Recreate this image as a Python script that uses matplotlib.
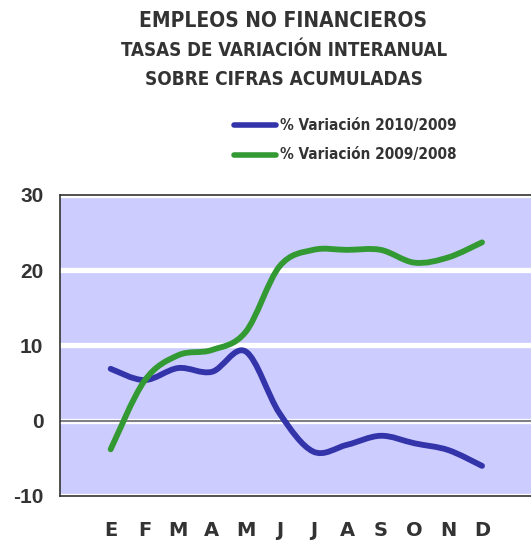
import matplotlib
matplotlib.use("Agg")
import matplotlib.pyplot as plt
from matplotlib.path import Path
from matplotlib.patches import PathPatch
from matplotlib.lines import Line2D

months = ["E", "F", "M", "A", "M", "J", "J", "A", "S", "O", "N", "D"]
var_2010_2009 = [6.9, 5.4, 7.0, 6.5, 9.2, 1.0, -4.1, -3.2, -2.0, -3.0, -3.9, -6.0]
var_2009_2008 = [-3.8, 5.3, 8.7, 9.4, 11.8, 20.5, 22.7, 22.7, 22.7, 21.0, 21.7, 23.7]
series_names = ["% Variación 2010/2009", "% Variación 2009/2008"]
yticks = [-10, 0, 10, 20, 30]

BLUE = "#3333aa"
GREEN = "#339933"
TXT = "#333333"
plt.rcParams["axes.unicode_minus"] = False


def smooth_path(xs, ys):
    # Excel-style smoothed line: cubic bezier through every point
    pts = list(zip(xs, ys))
    n = len(pts)
    verts = [pts[0]]
    codes = [Path.MOVETO]
    for i in range(n - 1):
        p0 = pts[max(i - 1, 0)]
        p1 = pts[i]
        p2 = pts[i + 1]
        p3 = pts[min(i + 2, n - 1)]
        c1 = (p1[0] + (p2[0] - p0[0]) / 6, p1[1] + (p2[1] - p0[1]) / 6)
        c2 = (p2[0] - (p3[0] - p1[0]) / 6, p2[1] - (p3[1] - p1[1]) / 6)
        verts += [c1, c2, p2]
        codes += [Path.CURVE4] * 3
    return Path(verts, codes)


fig = plt.figure(figsize=(5.31, 5.40), dpi=100)
ax = fig.add_axes([0.113, 0.0815, 0.887, 0.5575])
ax.set_facecolor("#ccccff")

x = list(range(len(months)))
for vals, col in [(var_2010_2009, BLUE), (var_2009_2008, GREEN)]:
    ax.add_patch(PathPatch(smooth_path(x, vals), fill=False, edgecolor=col,
                           lw=4.2, capstyle="round", joinstyle="round", zorder=4))

ax.set_xlim(-1.5, 12.45)
ax.set_ylim(-10, 30)
ax.set_yticks(yticks)
ax.set_xticks(x)
ax.set_xticklabels(months)
ax.grid(axis="y", color="white", lw=3.8, zorder=1)
ax.set_axisbelow(True)
ax.axhline(0, color="#7f7f8a", lw=1.5, zorder=2)

for s in ["left", "top", "bottom"]:
    ax.spines[s].set_color("#333333")
    ax.spines[s].set_linewidth(1.2)
    ax.spines[s].set_zorder(5)
ax.spines["right"].set_visible(False)

ax.tick_params(length=0)
ax.tick_params(axis="y", pad=12, labelsize=15, labelcolor=TXT)
ax.tick_params(axis="x", pad=18, labelsize=14, labelcolor=TXT)
for lab in ax.get_yticklabels():
    lab.set_fontweight("bold")
    lab.set_family(["Liberation Sans", "DejaVu Sans"])
for lab in ax.get_xticklabels():
    lab.set_fontweight("heavy")
    lab.set_family("DejaVu Sans")

head = dict(ha="center", va="center", fontweight="bold", color=TXT,
            family="DejaVu Sans", fontstretch="condensed")
fig.text(0.533, 0.962, "EMPLEOS NO FINANCIEROS", fontsize=15, **head)
fig.text(0.535, 0.907, "TASAS DE VARIACIÓN INTERANUAL", fontsize=13.4, **head)
fig.text(0.535, 0.852, "SOBRE CIFRAS ACUMULADAS", fontsize=13.6, **head)

for i, (name, col) in enumerate(zip(series_names, [BLUE, GREEN])):
    yy = 0.768 - i * 0.055
    fig.add_artist(Line2D([0.44, 0.52], [yy, yy], color=col, lw=4,
                          solid_capstyle="round", transform=fig.transFigure))
    fig.text(0.527, yy, name, ha="left", va="center", fontsize=11,
             fontweight="bold", family="DejaVu Sans", fontstretch="condensed",
             color=TXT)

fig.savefig("out.png", dpi=100)
